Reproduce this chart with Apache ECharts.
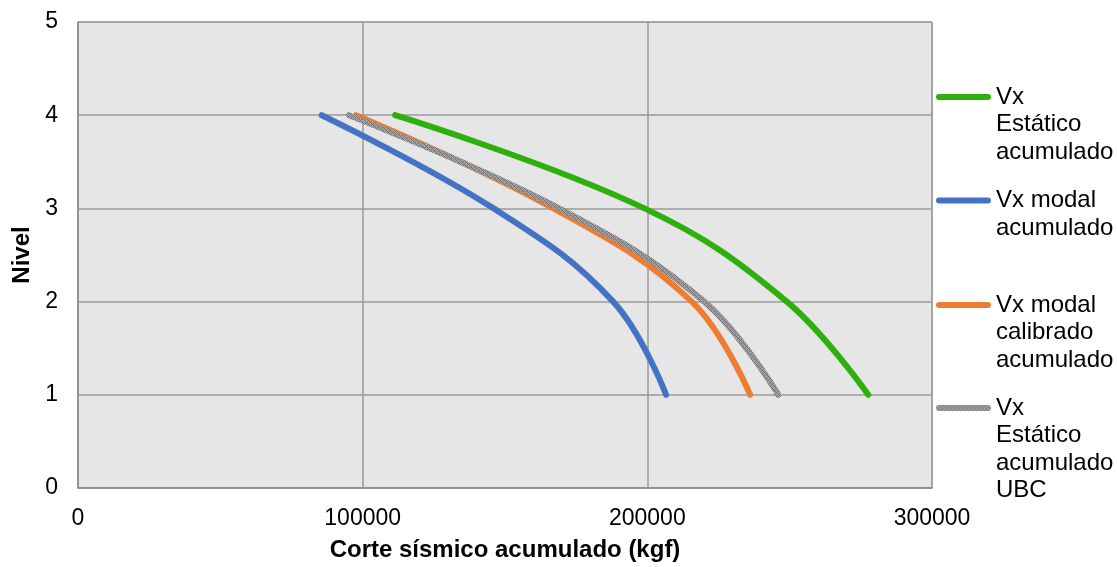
<!DOCTYPE html>
<html>
<head>
<meta charset="utf-8">
<script src="https://cdn.jsdelivr.net/npm/echarts@6/dist/echarts.min.js"></script>
<style>
html,body{margin:0;padding:0;background:#fff;}
#chart{width:1117px;height:567px;}
</style>
</head>
<body>
<div id="chart"></div>
<script>
// Data
var levels = [4, 3, 2, 1];
var vxEstatico = [111400, 199000, 249000, 277600];
var vxModal = [85600, 146000, 188000, 206600];
var vxModalCalibrado = [97700, 167000, 215600, 236100];
var vxEstaticoUBC = [95200, 169000, 220000, 246000];
var seriesNames = ['Vx\nEstático\nacumulado', 'Vx modal\nacumulado', 'Vx modal\ncalibrado\nacumulado', 'Vx\nEstático\nacumulado\nUBC'];
var xTicks = {min: 0, max: 300000, interval: 100000};
var yTicks = {min: 0, max: 5, interval: 1};

function pairs(xs, ys) { return xs.map(function (x, i) { return [x, ys[i]]; }); }

// crosshatch pattern for the UBC series
var pc = document.createElement('canvas');
pc.width = 4; pc.height = 4;
var g = pc.getContext('2d');
g.fillStyle = '#a4a4a4'; g.fillRect(0, 0, 4, 4);
g.fillStyle = '#727272';
g.fillRect(0, 0, 1, 1); g.fillRect(2, 2, 1, 1); g.fillRect(1, 1, 1, 1); g.fillRect(3, 3, 1, 1);
g.fillRect(3, 1, 1, 1); g.fillRect(1, 3, 1, 1);
var greyPattern = {image: pc, repeat: 'repeat'};

var colors = ['#2eb00c', '#4472c4', '#ed7d31', greyPattern];
var dataSets = [vxEstatico, vxModal, vxModalCalibrado, vxEstaticoUBC];

var chart = echarts.init(document.getElementById('chart'), null, {renderer: 'canvas'});
var LH = 27.5;
var IW = 55;
var legendCenters = [97, 200.5, 305, 408];
function iconPath(h) {
  var cy = LH / 2, r = 3;
  return 'path://M0,0 L' + IW + ',0 Z ' +
    'M' + r + ',' + (cy - r) + ' L' + (IW - r) + ',' + (cy - r) +
    ' A' + r + ',' + r + ' 0 0 1 ' + (IW - r) + ',' + (cy + r) +
    ' L' + r + ',' + (cy + r) +
    ' A' + r + ',' + r + ' 0 0 1 ' + r + ',' + (cy - r) + ' Z ' +
    'M0,' + h + ' L' + IW + ',' + h + ' Z';
}
var legends = seriesNames.map(function (n, i) {
  var lines = n.split('\n').length;
  var h = lines * LH;
  return {
    left: 936,
    top: legendCenters[i] - LH / 2,
    padding: 0,
    itemWidth: IW,
    itemHeight: h,
    itemGap: 0,
    icon: iconPath(h),
    selectedMode: false,
    orient: 'vertical',
    data: [n],
    textStyle: {fontFamily: 'Liberation Sans, Arial, sans-serif', fontSize: 24, lineHeight: LH, color: '#000'}
  };
});

var option = {
  animation: false,
  backgroundColor: '#ffffff',
  grid: {left: 78, right: 185, top: 22, bottom: 79, show: true, backgroundColor: '#e6e6e6', borderColor: '#9a9a9a', borderWidth: 1},
  legend: legends,
  xAxis: {
    type: 'value', min: xTicks.min, max: xTicks.max, interval: xTicks.interval,
    name: 'Corte sísmico acumulado (kgf)', nameLocation: 'middle', nameGap: 50,
    nameTextStyle: {fontFamily: 'Liberation Sans, Arial, sans-serif', fontSize: 24, fontWeight: 'bold', color: '#000'},
    axisLine: {show: true, lineStyle: {color: '#8c8c8c', width: 1.5}},
    axisTick: {show: false},
    axisLabel: {fontFamily: 'Liberation Sans, Arial, sans-serif', fontSize: 23, color: '#000', margin: 19,
      formatter: function (v) { return String(v); }},
    splitLine: {show: true, lineStyle: {color: '#9a9a9a', width: 1.5}}
  },
  yAxis: {
    type: 'value', min: yTicks.min, max: yTicks.max, interval: yTicks.interval,
    name: 'Nivel', nameLocation: 'middle', nameGap: 44, nameRotate: 90,
    nameTextStyle: {fontFamily: 'Liberation Sans, Arial, sans-serif', fontSize: 24, fontWeight: 'bold', color: '#000'},
    axisLine: {show: true, lineStyle: {color: '#8c8c8c', width: 1.5}},
    axisTick: {show: false},
    axisLabel: {fontFamily: 'Liberation Sans, Arial, sans-serif', fontSize: 23, color: '#000', margin: 20},
    splitLine: {show: true, lineStyle: {color: '#9a9a9a', width: 1.5}}
  },
  series: dataSets.map(function (d, i) {
    return {
      name: seriesNames[i],
      type: 'line',
      data: pairs(d, levels),
      smooth: 0.4,
      symbol: 'none',
      color: colors[i],
      lineStyle: {width: 6, cap: 'round', join: 'round', color: colors[i]},
      itemStyle: {color: colors[i]}
    };
  })
};
chart.setOption(option);
</script>
</body>
</html>
